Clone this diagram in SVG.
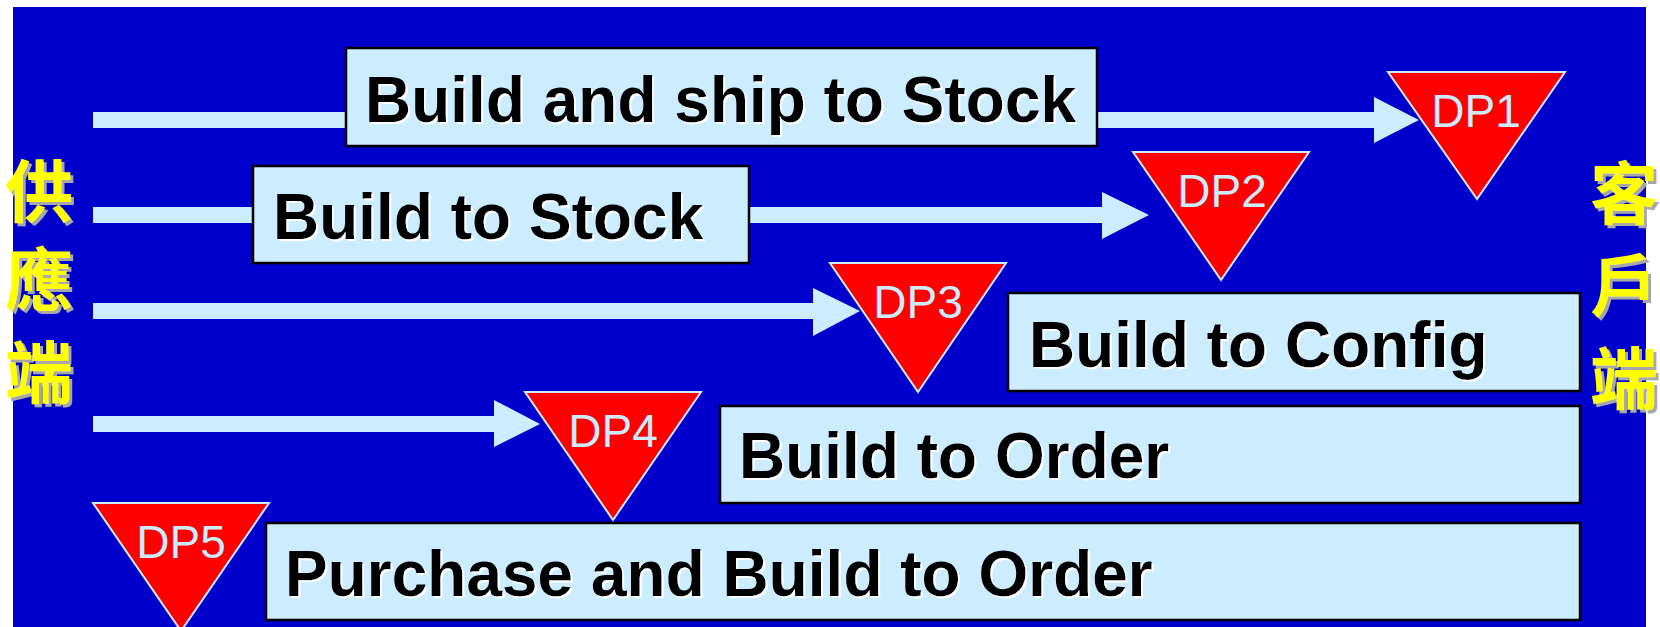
<svg xmlns="http://www.w3.org/2000/svg" width="1660" height="627" viewBox="0 0 1660 627">
<defs>
<filter id="shGray" x="-20%" y="-10%" width="150%" height="130%">
  <feOffset in="SourceAlpha" dx="3" dy="3" result="o"/>
  <feFlood flood-color="#A8A8A8"/>
  <feComposite in2="o" operator="in" result="s"/>
  <feMerge><feMergeNode in="s"/><feMergeNode in="SourceGraphic"/></feMerge>
</filter>
<filter id="shWhite" x="-5%" y="-20%" width="110%" height="150%">
  <feOffset in="SourceAlpha" dx="2" dy="2" result="o"/>
  <feFlood flood-color="#FFFFFF"/>
  <feComposite in2="o" operator="in" result="s"/>
  <feMerge><feMergeNode in="s"/><feMergeNode in="SourceGraphic"/></feMerge>
</filter>
</defs>
<style>
.bg{fill:#0000CC}
.box{fill:#CCECFF;stroke:#000;stroke-width:2.5}
.bt{font-family:"Liberation Sans",Arial,sans-serif;font-weight:bold;font-size:64px;fill:#000;filter:url(#shWhite)}
.tri{fill:#FF0000;stroke:#CCECFF;stroke-width:2}
.dp{font-family:"Liberation Sans",Arial,sans-serif;font-size:46px;fill:#CCECFF;text-anchor:middle}
.arrow{fill:#CCECFF}
.cj{font-family:"Noto Sans CJK TC","Noto Sans CJK SC",sans-serif;font-weight:bold;font-size:68px;text-anchor:middle;fill:#FFFF00;filter:url(#shGray)}
</style>
<rect x="0" y="0" width="1660" height="627" fill="#fff"/>
<rect class="bg" x="13" y="7" width="1633" height="620"/>

<g id="connectors">
  <path class="arrow" d="M93 112 H1374 V97 L1419 120 L1374 143 V128 H93 Z"/>
  <path class="arrow" d="M93 207 H1102 V192 L1149 215 L1102 239 V223 H93 Z"/>
  <path class="arrow" d="M93 303 H813 V288 L860 311 L813 336 V319 H93 Z"/>
  <path class="arrow" d="M93 416 H494 V400 L540 424 L494 447 V432 H93 Z"/>
</g>

<g id="box-build-ship-stock">
  <rect class="box" x="346" y="48" width="751" height="98"/>
  <text class="bt" x="365" y="122">Build and ship to Stock</text>
</g>
<g id="box-build-stock">
  <rect class="box" x="253" y="166" width="496" height="97"/>
  <text class="bt" x="273" y="239">Build to Stock</text>
</g>
<g id="box-build-config">
  <rect class="box" x="1008" y="293" width="572" height="98"/>
  <text class="bt" x="1029" y="367">Build to Config</text>
</g>
<g id="box-build-order">
  <rect class="box" x="720" y="406" width="860" height="97"/>
  <text class="bt" x="739" y="478">Build to Order</text>
</g>
<g id="box-purchase-build-order">
  <rect class="box" x="266" y="523" width="1314" height="97"/>
  <text class="bt" x="285" y="596">Purchase and Build to Order</text>
</g>

<g id="dp1">
  <path class="tri" d="M1388 72 H1565 L1477 199 Z"/>
  <text class="dp" x="1476" y="127">DP1</text>
</g>
<g id="dp2">
  <path class="tri" d="M1133 152 H1309 L1221 280 Z"/>
  <text class="dp" x="1222" y="207">DP2</text>
</g>
<g id="dp3">
  <path class="tri" d="M830 263 H1006 L918 392 Z"/>
  <text class="dp" x="918" y="318">DP3</text>
</g>
<g id="dp4">
  <path class="tri" d="M525 392 H701 L613 520 Z"/>
  <text class="dp" x="613" y="447">DP4</text>
</g>
<g id="dp5">
  <path class="tri" d="M93 503 H269 L181 631 Z"/>
  <text class="dp" x="181" y="558">DP5</text>
</g>

<g id="label-supply">
  <text class="cj"><tspan x="39" y="217">供</tspan><tspan x="39" y="305">應</tspan><tspan x="39" y="398">端</tspan></text>
</g>
<g id="label-customer">
  <text class="cj"><tspan x="1624" y="219">客</tspan><tspan x="1624" y="311">戶</tspan><tspan x="1624" y="404">端</tspan></text>
</g>
</svg>
